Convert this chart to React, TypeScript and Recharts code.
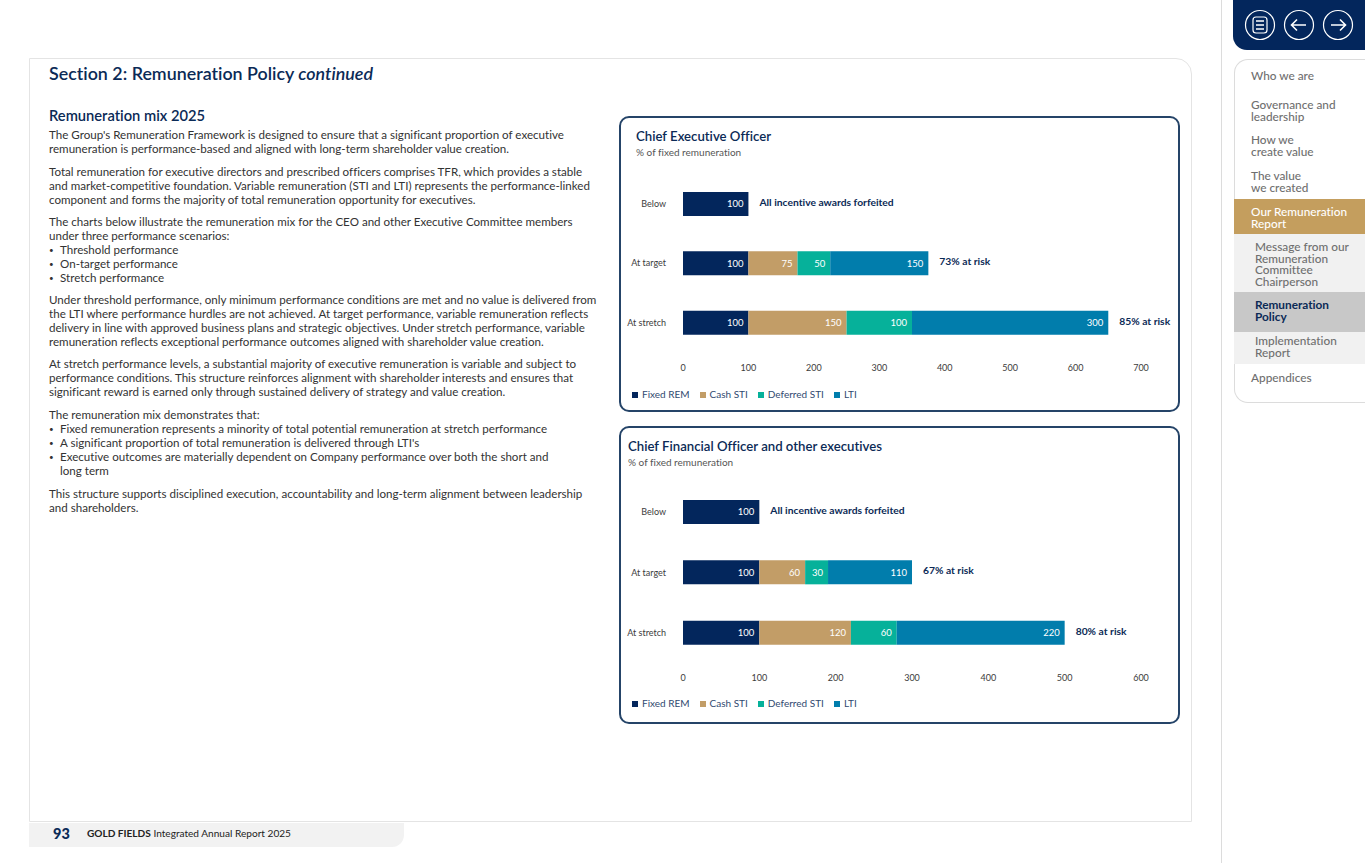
import { Bar, BarChart, LabelList, Legend, XAxis, YAxis } from "recharts"

const FONT = "Lato, sans-serif"
const NAVY = "#0b2a56"

const categories = ["Below", "At target", "At stretch"]
const seriesNames = ["Fixed REM", "Cash STI", "Deferred STI", "LTI"]
const seriesColors = ["#03265c", "#c29d67", "#06b19a", "#017dac"]

const ceoFixed = [100, 100, 100]
const ceoCash = [null, 75, 150]
const ceoDeferred = [null, 50, 100]
const ceoLti = [null, 150, 300]
const ceoNotes = ["All incentive awards forfeited", "73% at risk", "85% at risk"]
const ceoTicks = [0, 100, 200, 300, 400, 500, 600, 700]

const cfoFixed = [100, 100, 100]
const cfoCash = [null, 60, 120]
const cfoDeferred = [null, 30, 60]
const cfoLti = [null, 110, 220]
const cfoNotes = ["All incentive awards forfeited", "67% at risk", "80% at risk"]
const cfoTicks = [0, 100, 200, 300, 400, 500, 600]

const paragraphs = [
  { top: 128, text: "The Group's Remuneration Framework is designed to ensure that a significant proportion of executive\nremuneration is performance-based and aligned with long-term shareholder value creation." },
  { top: 165, text: "Total remuneration for executive directors and prescribed officers comprises TFR, which provides a stable\nand market-competitive foundation. Variable remuneration (STI and LTI) represents the performance-linked\ncomponent and forms the majority of total remuneration opportunity for executives." },
  { top: 215, text: "The charts below illustrate the remuneration mix for the CEO and other Executive Committee members\nunder three performance scenarios:\n• Threshold performance\n• On-target performance\n• Stretch performance" },
  { top: 293, text: "Under threshold performance, only minimum performance conditions are met and no value is delivered from\nthe LTI where performance hurdles are not achieved. At target performance, variable remuneration reflects\ndelivery in line with approved business plans and strategic objectives. Under stretch performance, variable\nremuneration reflects exceptional performance outcomes aligned with shareholder value creation." },
  { top: 357, text: "At stretch performance levels, a substantial majority of executive remuneration is variable and subject to\nperformance conditions. This structure reinforces alignment with shareholder interests and ensures that\nsignificant reward is earned only through sustained delivery of strategy and value creation." },
  { top: 408, text: "The remuneration mix demonstrates that:\n• Fixed remuneration represents a minority of total potential remuneration at stretch performance\n• A significant proportion of total remuneration is delivered through LTI's\n• Executive outcomes are materially dependent on Company performance over both the short and\n> long term" },
  { top: 487, text: "This structure supports disciplined execution, accountability and long-term alignment between leadership\nand shareholders." },
]

const navItems = [
  { top: 70, text: "Who we are", left: 1251 },
  { top: 99, text: "Governance and\nleadership", left: 1251 },
  { top: 134, text: "How we\ncreate value", left: 1251 },
  { top: 170, text: "The value\nwe created", left: 1251 },
  { top: 206, text: "Our Remuneration\nReport", left: 1251, color: "#fff" },
  { top: 241, text: "Message from our\nRemuneration\nCommittee\nChairperson", left: 1255 },
  { top: 299, text: "Remuneration\nPolicy", left: 1255, color: NAVY, weight: 700 },
  { top: 335, text: "Implementation\nReport", left: 1255 },
  { top: 372, text: "Appendices", left: 1251 },
]

const navBands = [
  { top: 199, height: 35, background: "#c49e5e" },
  { top: 234, height: 58, background: "#f1f1f1" },
  { top: 292, height: 40, background: "#c8c8c8" },
  { top: 332, height: 32, background: "#f1f1f1" },
]

function box(left: number, top: number, width: number, height: number) {
  return { position: "absolute" as const, left, top, width, height }
}

function NoteLabel(props: any) {
  const { x, y, width, height, value } = props
  return (
    <text x={x + width + 11} y={y + height / 2 - 0.5} dominantBaseline="middle" fontSize={10.3} fontWeight={700} fill={NAVY} fontFamily={FONT}>
      {value}
    </text>
  )
}

function BodyLine({ line }: { line: string }) {
  const marker = line.startsWith("• ") || line.startsWith("> ")
  if (!marker) return <div>{line}</div>
  return (
    <div>
      <span style={{ display: "inline-block", width: 11, fontSize: 8, verticalAlign: "1px" }}>{line[0] === "•" ? "•" : ""}</span>
      {line.slice(2)}
    </div>
  )
}

function MixChart(props: any) {
  const { fixed, cash, deferred, lti, notes, ticks, height, marginTop, marginBottom, axisHeight, tickMargin } = props
  const rows = categories.map((name, i) => ({
    name,
    fixed: fixed[i],
    cash: cash[i],
    deferred: deferred[i],
    lti: lti[i],
    end: 0.01,
    note: notes[i],
  }))
  const keys = ["fixed", "cash", "deferred", "lti"]
  return (
    <BarChart
      width={561}
      height={height}
      data={rows}
      layout="vertical"
      barSize={24}
      margin={{ top: marginTop, right: 39, bottom: marginBottom, left: 0 }}
      style={{ fontFamily: FONT }}
    >
      <XAxis
        type="number"
        domain={[0, ticks[ticks.length - 1]]}
        ticks={ticks}
        height={axisHeight}
        tickLine={false}
        axisLine={false}
        tickMargin={tickMargin}
        tick={{ fontSize: 9, fill: "#3c3c3c" }}
        interval={0}
      />
      <YAxis
        type="category"
        dataKey="name"
        width={64}
        tickLine={false}
        tickSize={0}
        axisLine={false}
        tickMargin={17}
        tick={{ fontSize: 9, fill: "#3c3c3c" }}
      />
      <Legend
        align="left"
        verticalAlign="bottom"
        iconType="square"
        iconSize={6}
        height={16}
        itemSorter={null}
        wrapperStyle={{ left: 13, fontSize: 10 }}
        formatter={(value) => <span style={{ color: "#30496f" }}>{value}</span>}
      />
      {keys.map((key, i) => (
        <Bar key={key} dataKey={key} name={seriesNames[i]} stackId="mix" fill={seriesColors[i]} isAnimationActive={false}>
          <LabelList dataKey={key} position="insideRight" offset={5} fill="#fff" fontSize={9.5} />
        </Bar>
      ))}
      <Bar dataKey="end" stackId="mix" fill="transparent" legendType="none" isAnimationActive={false}>
        <LabelList dataKey="note" content={NoteLabel} />
      </Bar>
    </BarChart>
  )
}

function Card(props: any) {
  const { top, height, titleLeft, title, children } = props
  return (
    <div style={{ ...box(619, top, 561, height), boxSizing: "border-box", border: "2px solid #254468", borderRadius: 10, background: "#fff" }}>
      <div style={{ position: "absolute", left: -2, top: -2 }}>{children}</div>
      <div style={{ position: "absolute", left: titleLeft - 621, top: 10, fontSize: 13.2, fontWeight: 600, color: NAVY, whiteSpace: "nowrap" }}>{title}</div>
      <div style={{ position: "absolute", left: titleLeft - 621, top: 28, fontSize: 10, color: "#555", whiteSpace: "nowrap" }}>% of fixed remuneration</div>
    </div>
  )
}

export default function App() {
  return (
    <div style={{ position: "absolute", left: 0, top: 0, width: 1365, height: 863, overflow: "hidden", background: "#fff", fontFamily: FONT, fontVariantLigatures: "none" }}>
      {/* page panel */}
      <div style={{ ...box(29, 58, 1163, 764), boxSizing: "border-box", border: "1px solid #e4e4e4", borderTopRightRadius: 16 }} />
      <div style={{ ...box(29, 823, 375, 24), background: "#f2f2f2", borderBottomRightRadius: 12 }} />
      <div style={{ position: "absolute", left: 53, top: 825, fontSize: 14.5, fontWeight: 900, color: NAVY }}>93</div>
      <div style={{ position: "absolute", left: 87, top: 827, fontSize: 10.1, color: "#222", whiteSpace: "nowrap" }}>
        <b>GOLD FIELDS</b> Integrated Annual Report 2025
      </div>

      <div style={{ position: "absolute", left: 49, top: 62, fontSize: 17.85, fontWeight: 600, color: NAVY, whiteSpace: "nowrap" }}>
        Section 2: Remuneration Policy <i>continued</i>
      </div>
      <div style={{ position: "absolute", left: 49, top: 106, fontSize: 14.7, fontWeight: 600, color: NAVY, whiteSpace: "nowrap" }}>Remuneration mix 2025</div>
      {paragraphs.map((p) => (
        <div key={p.top} style={{ position: "absolute", left: 49, top: p.top, fontSize: 11.6, lineHeight: "14px", color: "#333", whiteSpace: "pre" }}>
          {p.text.split("\n").map((line) => (
            <BodyLine key={line} line={line} />
          ))}
        </div>
      ))}

      <Card top={116} height={296} titleLeft={636} title="Chief Executive Officer">
        <MixChart fixed={ceoFixed} cash={ceoCash} deferred={ceoDeferred} lti={ceoLti} notes={ceoNotes} ticks={ceoTicks} height={296} marginTop={58} marginBottom={8} axisHeight={36} tickMargin={7} />
      </Card>
      <Card top={426} height={298} titleLeft={628} title="Chief Financial Officer and other executives">
        <MixChart fixed={cfoFixed} cash={cfoCash} deferred={cfoDeferred} lti={cfoLti} notes={cfoNotes} ticks={cfoTicks} height={298} marginTop={56} marginBottom={11} axisHeight={34} tickMargin={6} />
      </Card>

      {/* side navigation */}
      <div style={{ ...box(1221, 0, 1, 863), background: "#dcdcdc" }} />
      <div style={{ ...box(1233, 0, 132, 50), background: "#03265c", borderBottomLeftRadius: 14 }} />
      <svg style={box(1233, 0, 132, 50)} viewBox="0 0 132 50" fill="none" stroke="#fff" strokeWidth={1.2}>
        <circle cx={27} cy={25} r={14.5} />
        <circle cx={66} cy={25} r={14.5} />
        <circle cx={105} cy={25} r={14.5} />
        <rect x={20} y={17} width={14} height={16} rx={3} />
        <path d="M23 21h8M23 25h8M23 29h8" strokeWidth={1.6} />
        <path d="M59 25h14M64 19.5 58.5 25l5.5 5.5" strokeWidth={1.6} />
        <path d="M98 25h14M107 19.5l5.5 5.5-5.5 5.5" strokeWidth={1.6} />
      </svg>
      <div style={{ ...box(1234, 59, 131, 344), boxSizing: "border-box", border: "1.5px solid #dcdcdc", borderRight: "none", borderTopLeftRadius: 14, borderBottomLeftRadius: 14 }} />
      {navBands.map((b) => (
        <div key={b.top} style={{ ...box(1234, b.top, 131, b.height), background: b.background }} />
      ))}
      {navItems.map((n) => (
        <div key={n.top} style={{ position: "absolute", left: n.left, top: n.top, fontSize: 11.8, lineHeight: "11.7px", color: n.color ?? "#6f6f6f", fontWeight: n.weight ?? 500, whiteSpace: "pre" }}>
          {n.text}
        </div>
      ))}
    </div>
  )
}
